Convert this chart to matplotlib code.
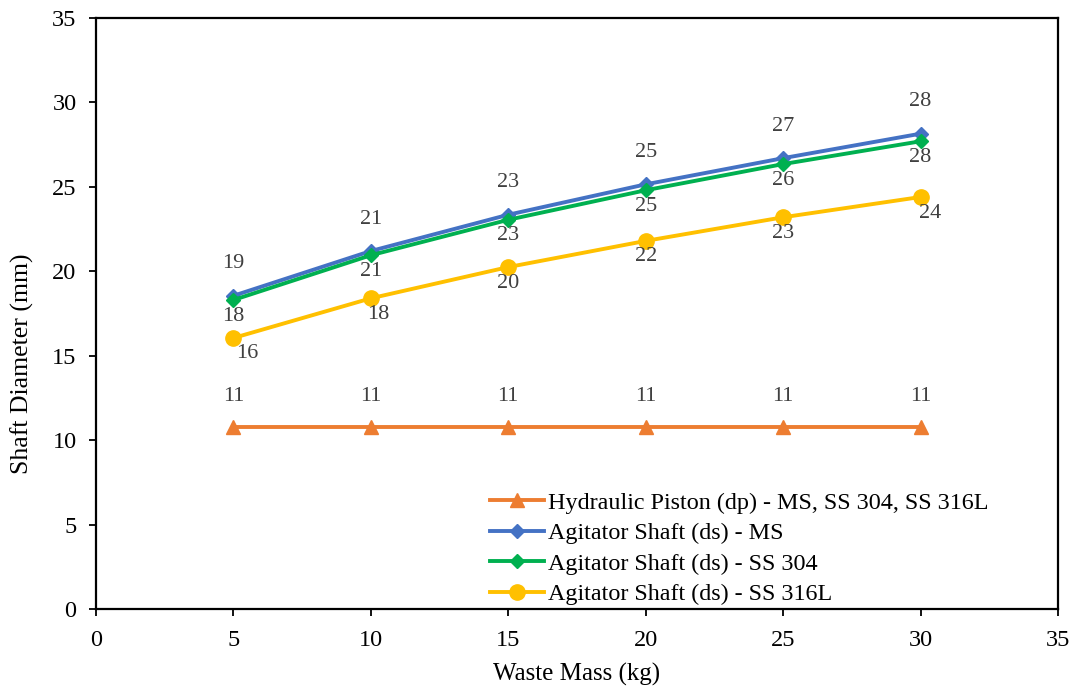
import matplotlib
matplotlib.use("Agg")
import matplotlib.pyplot as plt

plt.rcParams['font.family'] = ['Liberation Serif', 'DejaVu Serif']

# data
waste_mass = [5, 10, 15, 20, 25, 30]
piston = [10.75, 10.75, 10.75, 10.75, 10.75, 10.75]
shaft_ms = [18.55, 21.2, 23.35, 25.15, 26.7, 28.15]
shaft_304 = [18.3, 20.95, 23.05, 24.8, 26.35, 27.7]
shaft_316l = [16.05, 18.4, 20.25, 21.8, 23.2, 24.4]

# label offsets (pixels): dy per series, dx per point
series = [
    ("Hydraulic Piston (dp) - MS, SS 304, SS 316L", piston, "#ED7D31", "^", 10, 31, [0] * 6),
    ("Agitator Shaft (ds) - MS", shaft_ms, "#4472C4", "D", 7.5, 32, [0] * 6),
    ("Agitator Shaft (ds) - SS 304", shaft_304, "#00B050", "D", 7.5, -16, [0] * 6),
    ("Agitator Shaft (ds) - SS 316L", shaft_316l, "#FFC000", "o", 11, -16, [14, 7, 0, 0, 0, 10]),
]

fig = plt.figure(figsize=(10.77, 6.93), dpi=100)
ax = fig.add_axes([0.0891, 0.1212, 0.8932, 0.8528])

for name, vals, col, mk, ms, dy, dxs in series:
    ax.plot(waste_mass, vals, color=col, lw=2.8, marker=mk, markersize=ms,
            label=name, zorder=3)
    for x, y, dx in zip(waste_mass, vals, dxs):
        ax.annotate(f"{round(y):d}", (x, y), xytext=(dx, dy), textcoords="offset pixels",
                    ha="center", va="center", fontsize=16, color="#404040")

ax.set_xlim(0, 35)
ax.set_ylim(0, 35)
ax.set_xticks(range(0, 36, 5))
ax.set_yticks(range(0, 36, 5))
ax.tick_params(direction="out", length=5, width=1.3, labelsize=17.5)
ax.tick_params(axis="x", pad=10)
ax.tick_params(axis="y", pad=9)
for sp in ax.spines.values():
    sp.set_linewidth(1.6)

ax.set_xlabel("Waste Mass (kg)", fontsize=18, labelpad=9)
ax.set_ylabel("Shaft Diameter (mm)", fontsize=18.5)
ax.yaxis.set_label_coords(-0.064, 0.415)

ax.legend(loc="lower left", bbox_to_anchor=(0.405, -0.002), frameon=False,
          fontsize=17.4, handlelength=2.2, handletextpad=0.2, labelspacing=0.36,
          borderaxespad=0, borderpad=0.2)

fig.savefig("out.png", dpi=100)
